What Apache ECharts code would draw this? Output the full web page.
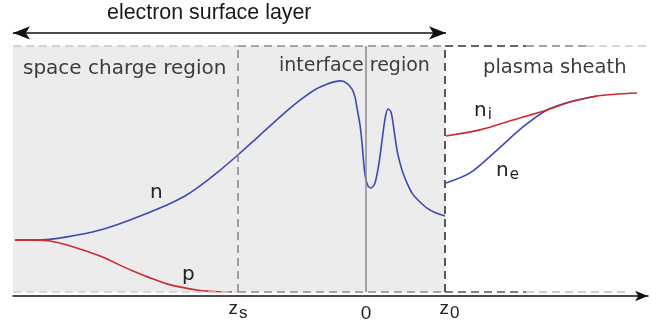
<!DOCTYPE html>
<html lang="en">
<head>
    <meta charset="UTF-8">
    <title>electron surface layer</title>
    <script src="https://cdn.jsdelivr.net/npm/echarts@6/dist/echarts.min.js"></script>
</head>
<style>
    html, body { margin: 0; padding: 0; background-color: #FFFFFF; }
</style>
<body>
<div id="main" style="width: 656px;height:327px;"></div>
<script>
    // positions along z (0 = interface), densities in arbitrary units (0..100)
    var zMin = -35.3, zMax = 28.2;
    var zS = -12.8, z0 = 7.9;
    var tickValues = [zS, 0, z0];
    var tickNames = ['{z|z}{sub|s}', '{zero|0}', '{zr|z}{sub|0}'];

    var nData = [[-35.1,21.1],[-32.9,21.1],[-29.9,22.4],[-26.6,25.2],[-23.6,29.3],[-19.9,35.4],[-18.1,39.0],
        [-16.6,43.1],[-14.8,48.8],[-12.7,56.1],[-10.6,63.8],[-7.8,74.0],[-6.3,78.9],[-4.9,82.7],[-4.0,84.3],
        [-3.2,85.4],[-2.5,85.8],[-1.9,84.8],[-1.4,82.5],[-1.1,79.3],[-0.9,74.8],[-0.6,67.9],[-0.4,60.6],
        [-0.1,47.6],[0.2,43.1],[0.5,42.3],[0.9,44.3],[1.3,52.4],[1.6,61.4],[1.9,70.3],[2.2,74.4],[2.5,73.2],
        [2.8,65.9],[3.1,57.7],[3.4,52.4],[3.7,48.4],[4.1,44.3],[4.6,40.2],[5.2,37.4],[6.1,34.1],[7.0,32.1],
        [7.9,30.9]];
    var pData = [[-35.1,21.1],[-32.9,21.1],[-31.6,20.7],[-29.9,19.1],[-26.6,14.6],[-23.3,8.5],[-19.9,3.3],
        [-16.6,0.6],[-14.8,0.1],[-13.4,0.0]];
    var niData = [[8.0,63.4],[11.4,65.9],[14.7,69.9],[18.1,74.0],[20.4,77.2],[23.1,79.7],[27.1,80.9]];
    var neData = [[8.0,44.3],[10.4,48.4],[13.1,57.7],[15.7,67.1],[18.1,74.0],[20.7,77.6],[23.1,79.7]];

    var blue = '#3d4ab3', red = '#cc2b2f';

    var myChart = echarts.init(document.getElementById('main'));

    function dashed(from, to, y, color) {
        return [{coord: [from, y], lineStyle: {color: color}}, {coord: [to, y]}];
    }

    function curve(name, data, color, z) {
        return {name: name, type: 'line', data: data, smooth: 0.3, showSymbol: false, z: z,
            lineStyle: {color: color, width: 1.6}};
    }

    function label(text, left, top, font, fill) {
        return {type: 'text', z: 100, left: left, top: top, style: {text: text, fill: fill, font: font}};
    }

    function subLabel(main, sub, left, top) {
        return {type: 'text', z: 100, left: left, top: top, style: {
            rich: {a: {fontSize: 20, fontFamily: 'DejaVu Sans', fill: '#222'},
                b: {fontSize: 15, fontFamily: 'DejaVu Sans', fill: '#222', padding: [9, 0, 0, 1]}},
            text: '{a|' + main + '}{b|' + sub + '}'}};
    }

    var option = {
        animation: false,
        grid: {left: 13, right: 8, top: 14, bottom: 35},
        xAxis: {
            type: 'value', min: zMin, max: zMax, offset: 4,
            splitLine: {show: false},
            axisTick: {show: false},
            axisLine: {show: true, onZero: false, symbol: ['none', 'arrow'], symbolSize: [8, 13],
                lineStyle: {color: '#111', width: 1.5}},
            axisLabel: {
                customValues: tickValues,
                margin: 3,
                formatter: function (v) {
                    for (var i = 0; i < tickValues.length; i++) {
                        if (Math.abs(v - tickValues[i]) < 0.01) return tickNames[i];
                    }
                    return '';
                },
                rich: {
                    z: {fontFamily: 'Liberation Sans', fontSize: 19, color: '#222', verticalAlign: 'top'},
                    zr: {fontFamily: 'Liberation Sans', fontSize: 19, color: '#222', verticalAlign: 'top',
                        padding: [0, 0, 0, 9]},
                    zero: {fontFamily: 'Liberation Sans', fontSize: 19, color: '#222', verticalAlign: 'top',
                        padding: [5, 0, 0, 0]},
                    sub: {fontFamily: 'Liberation Sans', fontSize: 17, color: '#222', verticalAlign: 'top',
                        padding: [6, 0, 0, 1]}
                }
            }
        },
        yAxis: {type: 'value', min: 0, max: 113, show: false},
        series: [
            {
                type: 'line', data: [], z: 1, silent: true,
                markArea: {
                    silent: true,
                    itemStyle: {color: '#ececec'},
                    data: [[{coord: [zMin, 0]}, {coord: [z0, 100]}]]
                },
                markLine: {
                    silent: true, symbol: 'none',
                    label: {show: false},
                    lineStyle: {type: [8, 5], width: 1.6},
                    data: [
                        dashed(zMin, zS, 100, '#c6c6c6'),
                        dashed(zS, z0, 100, '#8c8c8c'),
                        dashed(z0, 16, 100, '#333'),
                        dashed(16, 22, 100, '#888'),
                        dashed(22, 28, 100, '#c8c8c8'),
                        dashed(zMin, zS, 0.3, '#cfcfcf'),
                        dashed(zS, z0, 0.3, '#8c8c8c'),
                        dashed(z0, 16, 0.3, '#555'),
                        dashed(16, 26, 0.3, '#bdbdbd'),
                        [{coord: [zS, 0], lineStyle: {color: '#8a8a8a'}}, {coord: [zS, 100]}],
                        [{coord: [z0, 0], lineStyle: {color: '#333'}}, {coord: [z0, 100]}],
                        [{coord: [0, 0], lineStyle: {color: '#8a8a8a', type: 'solid', width: 1.5}}, {coord: [0, 100]}],
                        [{coord: [-35.3, 105.3], symbol: 'arrow', symbolSize: [10, 17],
                            lineStyle: {color: '#111', type: 'solid', width: 1.5}},
                            {coord: [8.0, 105.3], symbol: 'arrow', symbolSize: [10, 17]}]
                    ]
                }
            },
            curve('n', nData, blue, 3),
            curve('p', pData, red, 3),
            curve('ne', neData, blue, 3),
            curve('ni', niData, red, 4)
        ],
        graphic: [
            label('electron surface layer', 107, 3, '21.4px "Liberation Sans"', '#1a1a1a'),
            label('space charge region', 23, 59, '20px "DejaVu Sans"', '#3c3c3c'),
            label('interface region', 279, 57, '19px "DejaVu Sans"', '#3c3c3c'),
            label('plasma sheath', 483, 58, '19.5px "DejaVu Sans"', '#3c3c3c'),
            label('n', 150, 183, '20px "DejaVu Sans"', '#222'),
            label('p', 182, 265, '20px "DejaVu Sans"', '#222'),
            subLabel('n', 'i', 474, 101),
            subLabel('n', 'e', 496, 161)
        ]
    };

    myChart.setOption(option);
</script>
</body>
</html>
